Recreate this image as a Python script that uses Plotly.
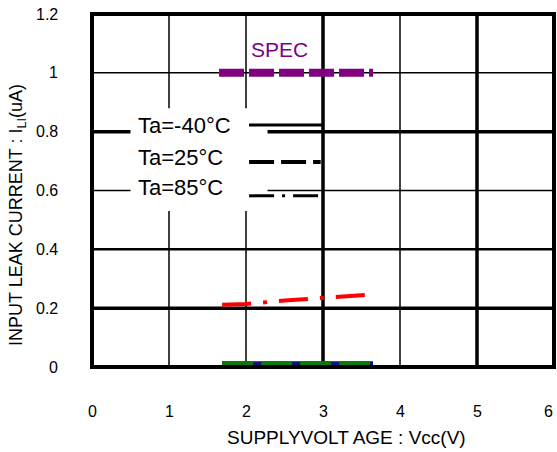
import plotly.graph_objects as go

# ---- data ----
spec_voltage = [1.65, 3.65]
spec_current = [1.0, 1.0]

voltage_low = [1.69, 2.0, 2.5, 3.0, 3.3, 3.65]
leak_m40 = [0.013, 0.013, 0.013, 0.013, 0.013, 0.013]
leak_25 = [0.013, 0.013, 0.013, 0.013, 0.013, 0.013]

voltage_85 = [1.69, 2.0, 2.5, 3.0, 3.3, 3.57]
leak_85 = [0.212, 0.214, 0.226, 0.236, 0.241, 0.245]

x_ticks = [0, 1, 2, 3, 4, 5, 6]
x_tick_text = ["0", "1", "2", "3", "4", "5", "6"]
y_ticks = [0, 0.2, 0.4, 0.6, 0.8, 1.0, 1.2]
y_tick_text = ["0", "0.2", "0.4", "0.6", "0.8", "1", "1.2"]
legend_labels = ["Ta=-40\u00b0C", "Ta=25\u00b0C", "Ta=85\u00b0C"]

FONT = "Liberation Sans, Arial, sans-serif"

fig = go.Figure()
fig.add_trace(go.Scatter(x=voltage_low, y=leak_m40, mode="lines",
                         line=dict(color="#10107a", width=4), showlegend=False))
fig.add_trace(go.Scatter(x=voltage_low, y=leak_25, mode="lines",
                         line=dict(color="#0a7a0a", width=4, dash="31px,8px"), showlegend=False))
fig.add_trace(go.Scatter(x=voltage_85, y=leak_85, mode="lines",
                         line=dict(color="#ff0000", width=4, dash="29px,12px,4px,12px"), showlegend=False))
fig.add_trace(go.Scatter(x=spec_voltage, y=spec_current, mode="lines",
                         line=dict(color="#800080", width=8, dash="25px,5px"), showlegend=False))

shapes = []
# grid lines with varying weights
vgrid_w = {1: 1.5, 2: 1.5, 3: 3.5, 4: 1.5, 5: 3.5}
for xv, w in vgrid_w.items():
    shapes.append(dict(type="line", xref="x", yref="paper", x0=xv, x1=xv, y0=0, y1=1,
                       line=dict(color="black", width=w), layer="below"))
hgrid_w = {0.2: 3.5, 0.4: 2.5, 0.6: 1.5, 0.8: 3.5, 1.0: 1.5}
for yv, w in hgrid_w.items():
    shapes.append(dict(type="line", xref="paper", yref="y", x0=0, x1=1, y0=yv, y1=yv,
                       line=dict(color="black", width=w), layer="below"))
# legend background
shapes.append(dict(type="rect", xref="x", yref="y", x0=0.5, x1=2.28, y0=0.53, y1=0.88,
                   fillcolor="white", line=dict(width=0), layer="below"))
# legend samples
leg_y = [0.823, 0.697, 0.582]
leg_x1 = [3.0, 2.97, 2.95]
leg_dash = ["solid", "25px,7px", "25px,8px,3px,8px"]
leg_w = [3, 4, 3]
for yy, x1, d, w in zip(leg_y, leg_x1, leg_dash, leg_w):
    shapes.append(dict(type="line", xref="x", yref="y", x0=2.04, x1=x1, y0=yy, y1=yy,
                       line=dict(color="black", width=w, dash=d), layer="below"))
# frame
shapes.append(dict(type="rect", xref="paper", yref="paper", x0=0, x1=1, y0=0, y1=1,
                   line=dict(color="black", width=4), layer="above"))

annotations = []
text_y = [0.82, 0.711, 0.609]
for t, yy in zip(legend_labels, text_y):
    annotations.append(dict(x=0.57, y=yy, xref="x", yref="y", text=t, showarrow=False,
                            xanchor="left", yanchor="middle",
                            font=dict(family=FONT, size=22, color="black")))
annotations.append(dict(x=2.44, y=1.078, xref="x", yref="y", text="SPEC", showarrow=False,
                        xanchor="center", yanchor="middle",
                        font=dict(family=FONT, size=21, color="#800080")))
# tick labels (as annotations so the edge labels are not dropped)
for i, (xv, t) in enumerate(zip(x_ticks, x_tick_text)):
    last = i == len(x_ticks) - 1
    annotations.append(dict(x=xv, xshift=(1 if last else 0), y=-(412 - 367) / 353,
                            xref="x", yref="paper", text=t,
                            showarrow=False, xanchor=("right" if last else "center"),
                            yanchor="middle",
                            font=dict(family=FONT, size=16, color="black")))
for yv, t in zip(y_ticks, y_tick_text):
    annotations.append(dict(x=-(92 - 60) / 462, y=yv, xref="paper", yref="y", text=t,
                            showarrow=False, xanchor="right", yanchor="middle",
                            font=dict(family=FONT, size=16, color="black")))
# axis titles
annotations.append(dict(x=(346 - 92) / 462, y=-(438 - 367) / 353, xref="paper", yref="paper",
                        text="SUPPLYVOLT AGE : Vcc(V)", showarrow=False,
                        xanchor="center", yanchor="middle",
                        font=dict(family=FONT, size=19, color="black")))
annotations.append(dict(x=-(92 - 18) / 462, y=(367 - 215) / 353, xref="paper", yref="paper",
                        text="INPUT LEAK CURRENT : I<sub>LI</sub>(uA)", textangle=-90,
                        showarrow=False, xanchor="center", yanchor="middle",
                        font=dict(family=FONT, size=18, color="black")))

fig.update_layout(
    width=557, height=452,
    margin=dict(l=92, r=3, t=14, b=85, autoexpand=False),
    paper_bgcolor="white", plot_bgcolor="white",
    shapes=shapes, annotations=annotations,
    showlegend=False,
)

fig.update_xaxes(range=[0, 6], tickvals=x_ticks, showgrid=False, zeroline=False, showline=False,
                 ticks="", showticklabels=False, automargin=False)
fig.update_yaxes(range=[0, 1.2], tickvals=y_ticks, showgrid=False,
                 zeroline=False, showline=False, ticks="", showticklabels=False, automargin=False)

# remove the default page margin so the figure fills the window exactly
fig.write_html("out.html", config={"displayModeBar": False},
               post_script="document.body.style.margin='0';document.body.style.overflow='hidden';")
